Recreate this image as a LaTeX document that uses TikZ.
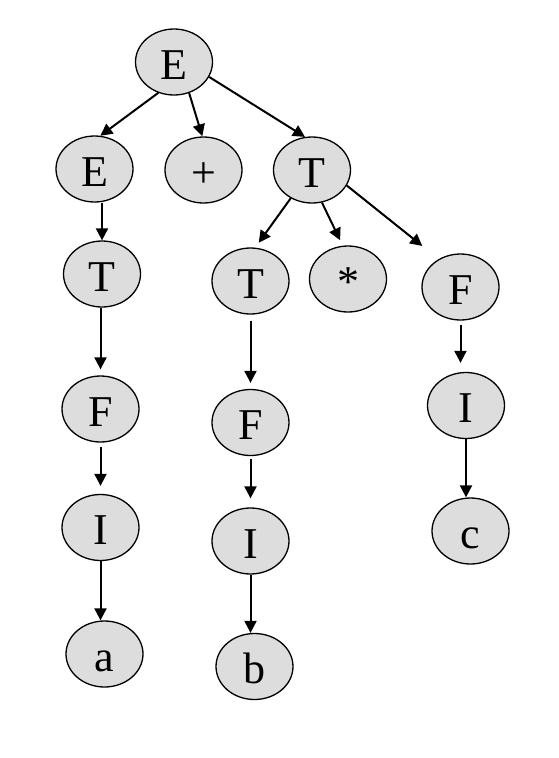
\documentclass[tikz,border=0pt]{standalone}
\usepackage{fontspec}
\setmainfont{Liberation Serif}
\usetikzlibrary{arrows.meta,shapes.geometric}
\definecolor{nodegray}{RGB}{221,221,221}
\begin{document}
\begin{tikzpicture}[x=1pt,y=-1pt,
  tn/.style={ellipse,draw=black,line width=1.3pt,fill=nodegray,minimum width=77pt,minimum height=66pt,inner sep=0pt,font=\fontsize{44}{44}\selectfont,text height=34pt,text depth=0pt},
  arr/.style={-{Triangle[length=12pt,width=12pt]},line width=2pt}]
\useasboundingbox[fill=white] (0,0) rectangle (558,758);
\node[tn] (E0) at (174,62) {E};
\node[tn] (E1) at (94.5,169) {E};
\node[tn] (P) at (203.5,170) {+};
\node[tn] (T0) at (312,170) {T};
\node[tn] (T1) at (102,274) {T};
\node[tn] (T2) at (250.5,281) {T};
\node[tn] (S) at (348,279) {*};
\node[tn] (F2) at (460.5,287) {F};
\node[tn] (F1) at (100.5,409) {F};
\node[tn] (Fm) at (250.5,422.5) {F};
\node[tn] (I2) at (466,405.5) {I};
\node[tn] (I1) at (100.5,527.5) {I};
\node[tn] (Im) at (250.5,541) {I};
\node[tn] (c) at (470.5,531) {c};
\node[tn] (a) at (104.5,654) {a};
\node[tn] (b) at (254.5,666.5) {b};
% diagonal edges
\draw[arr] (E0.243) -- (E1.80);
\draw[arr] (E0.296) -- (P.92);
\draw[arr] (E0.337) -- (T0.102);
\draw[arr, shorten >=6pt] (T0.233) -- (T2.82);
\draw[arr, shorten >=6pt] (T0.287) -- (S.99);
\draw[arr, shorten >=21pt] (T0.336) -- (F2.128);
% vertical edges
\draw[arr] (T1.north |- E1.south) -- (T1.north);
\draw[arr, shorten >=6pt] (F1.north |- T1.south) -- (F1.north);
\draw[arr, shorten <=6pt, shorten >=6pt] (T2.south) -- (T2.south |- Fm.north);
\draw[arr, shorten <=4pt, shorten >=8pt] (F1.south) -- (F1.south |- I1.north);
\draw[arr, shorten <=3pt, shorten >=9pt] (Fm.south) -- (Fm.south |- Im.north);
\draw[arr, shorten <=4pt, shorten >=9pt] (F2.south) -- (F2.south |- I2.north);
\draw[arr] (I2.south) -- (I2.south |- c.north);
\draw[arr] (I1.south) -- (I1.south |- a.north);
\draw[arr] (Im.south) -- (Im.south |- b.north);
\end{tikzpicture}
\end{document}
